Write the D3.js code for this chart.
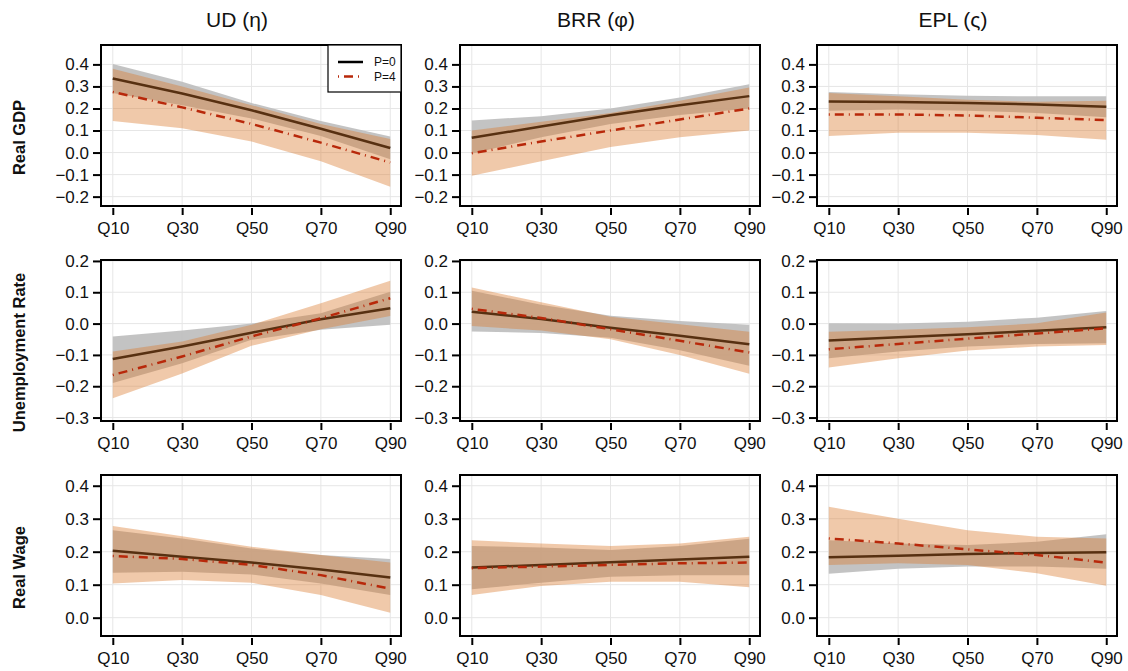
<!DOCTYPE html>
<html lang="en">
<head>
    <meta charset="UTF-8">
    <title>Quantile responses</title>
    <script src="https://cdnjs.cloudflare.com/ajax/libs/d3/7.8.5/d3.min.js"></script>
    <style>
        body { margin: 0; background: white; }
        text { font-family: "Liberation Sans", Arial, sans-serif; fill: #111; }
    </style>
</head>
<body>
    <div id="chart"></div>

    <script>
        // Data
        const quantiles = [10, 30, 50, 70, 90];
        const tickLabels = ["Q10", "Q30", "Q50", "Q70", "Q90"];
        const columnTitles = ["UD (η)", "BRR (φ)", "EPL (ς)"];
        const rowTitles = ["Real GDP", "Unemployment Rate", "Real Wage"];
        const legendLabels = ["P=0", "P=4"];

        const gdpTicks = [-0.2, -0.1, 0, 0.1, 0.2, 0.3, 0.4];
        const unempTicks = [-0.3, -0.2, -0.1, 0, 0.1, 0.2];
        const wageTicks = [0, 0.1, 0.2, 0.3, 0.4];

        // each: [UD, BRR, EPL], values at Q10..Q90
        const gdpP0 = [[0.336, 0.268, 0.192, 0.108, 0.021], [0.067, 0.118, 0.169, 0.215, 0.256], [0.232, 0.229, 0.225, 0.218, 0.208]];
        const gdpP0Lo = [[0.27, 0.215, 0.155, 0.075, -0.03], [-0.005, 0.07, 0.13, 0.17, 0.2], [0.19, 0.195, 0.19, 0.18, 0.16]];
        const gdpP0Hi = [[0.402, 0.321, 0.225, 0.143, 0.073], [0.146, 0.165, 0.2, 0.25, 0.31], [0.275, 0.265, 0.258, 0.255, 0.255]];
        const gdpP4 = [[0.275, 0.205, 0.13, 0.045, -0.045], [-0.003, 0.05, 0.1, 0.15, 0.2], [0.173, 0.173, 0.168, 0.158, 0.147]];
        const gdpP4Lo = [[0.143, 0.11, 0.05, -0.04, -0.155], [-0.105, -0.04, 0.025, 0.07, 0.1], [0.075, 0.09, 0.09, 0.08, 0.058]];
        const gdpP4Hi = [[0.38, 0.3, 0.215, 0.13, 0.062], [0.1, 0.14, 0.18, 0.235, 0.295], [0.27, 0.255, 0.24, 0.23, 0.235]];

        const unempP0 = [[-0.113, -0.073, -0.029, 0.014, 0.049], [0.038, 0.015, -0.013, -0.039, -0.066], [-0.054, -0.044, -0.034, -0.023, -0.012]];
        const unempP0Lo = [[-0.19, -0.127, -0.052, -0.02, -0.004], [-0.025, -0.03, -0.045, -0.085, -0.135], [-0.111, -0.089, -0.073, -0.065, -0.063]];
        const unempP0Hi = [[-0.041, -0.022, 0.0, 0.033, 0.102], [0.105, 0.06, 0.025, 0.008, -0.004], [0.001, 0.0, 0.006, 0.019, 0.04]];
        const unempP4 = [[-0.164, -0.105, -0.041, 0.017, 0.081], [0.047, 0.018, -0.018, -0.055, -0.092], [-0.082, -0.065, -0.048, -0.032, -0.015]];
        const unempP4Lo = [[-0.238, -0.159, -0.071, -0.018, 0.024], [-0.008, -0.022, -0.05, -0.1, -0.16], [-0.14, -0.111, -0.086, -0.073, -0.068]];
        const unempP4Hi = [[-0.089, -0.057, -0.004, 0.065, 0.137], [0.115, 0.068, 0.022, -0.002, -0.026], [-0.026, -0.02, -0.012, 0.001, 0.035]];

        const wageP0 = [[0.203, 0.185, 0.167, 0.146, 0.122], [0.152, 0.16, 0.168, 0.176, 0.185], [0.183, 0.188, 0.193, 0.196, 0.198]];
        const wageP0Lo = [[0.136, 0.139, 0.131, 0.104, 0.069], [0.086, 0.106, 0.124, 0.129, 0.129], [0.133, 0.148, 0.155, 0.155, 0.148]];
        const wageP0Hi = [[0.265, 0.24, 0.21, 0.19, 0.178], [0.217, 0.213, 0.205, 0.217, 0.239], [0.235, 0.225, 0.22, 0.23, 0.253]];
        const wageP4 = [[0.187, 0.178, 0.16, 0.129, 0.088], [0.15, 0.155, 0.16, 0.165, 0.167], [0.24, 0.225, 0.207, 0.19, 0.167]];
        const wageP4Lo = [[0.104, 0.114, 0.106, 0.069, 0.015], [0.069, 0.096, 0.109, 0.109, 0.092], [0.16, 0.165, 0.16, 0.135, 0.097]];
        const wageP4Hi = [[0.278, 0.247, 0.215, 0.19, 0.167], [0.235, 0.225, 0.217, 0.225, 0.245], [0.336, 0.3, 0.265, 0.245, 0.24]];

        // Layout
        const width = 1128, height = 671;
        const colLeft = [101, 460, 817];
        const rowTop = [45, 260, 475];
        const panelW = 300, panelH = 161;

        const rows = [
            { ticks: gdpTicks, domain: [-0.2425, 0.488], s: [gdpP0, gdpP0Lo, gdpP0Hi, gdpP4, gdpP4Lo, gdpP4Hi] },
            { ticks: unempTicks, domain: [-0.311, 0.203], s: [unempP0, unempP0Lo, unempP0Hi, unempP4, unempP4Lo, unempP4Hi] },
            { ticks: wageTicks, domain: [-0.0555, 0.4325], s: [wageP0, wageP0Lo, wageP0Hi, wageP4, wageP4Lo, wageP4Hi] }
        ];

        const greyFill = "#bdbdbd";
        const orangeFill = "#d9772b";
        const redLine = "#b8280a";
        const fmt = d3.format(".1f");

        const svg = d3.select("#chart")
            .append("svg")
            .attr("width", width)
            .attr("height", height);

        const x = d3.scaleLinear().domain([6.6, 93.1]).range([0, panelW]);

        // Column titles
        columnTitles.forEach((t, j) => {
            svg.append("text")
                .attr("x", colLeft[j] + panelW / 2 - 14)
                .attr("y", 27)
                .attr("text-anchor", "middle")
                .style("font-size", "21px")
                .text(t);
        });

        rows.forEach((row, i) => {
            const y = d3.scaleLinear().domain(row.domain).range([panelH, 0]);

            // Row label
            svg.append("text")
                .attr("transform", `translate(19, ${rowTop[i] + panelH / 2 + 12}) rotate(-90)`)
                .attr("text-anchor", "middle")
                .attr("dy", "0.35em")
                .style("font-size", "16.5px")
                .style("font-weight", "bold")
                .text(rowTitles[i]);

            for (let j = 0; j < 3; j++) {
                const g = svg.append("g")
                    .attr("transform", `translate(${colLeft[j]},${rowTop[i]})`);

                const clipId = `clip-${i}-${j}`;
                g.append("clipPath").attr("id", clipId)
                    .append("rect").attr("width", panelW).attr("height", panelH);

                // grid
                g.selectAll("line.hg").data(row.ticks).enter().append("line")
                    .attr("x1", 0).attr("x2", panelW)
                    .attr("y1", d => y(d)).attr("y2", d => y(d))
                    .attr("stroke", "#e6e6e6").attr("stroke-width", 1);
                g.selectAll("line.vg").data(quantiles).enter().append("line")
                    .attr("y1", 0).attr("y2", panelH)
                    .attr("x1", d => x(d)).attr("x2", d => x(d))
                    .attr("stroke", "#e6e6e6").attr("stroke-width", 1);

                const [m0, lo0, hi0, m4, lo4, hi4] = row.s.map(a => a[j]);
                const pts = (lo, hi) => quantiles.map((q, k) => ({ q, lo: lo[k], hi: hi[k] }));
                const area = d3.area().x(d => x(d.q)).y0(d => y(d.lo)).y1(d => y(d.hi));
                const line = d3.line().x((d, k) => x(quantiles[k])).y(d => y(d));

                const plot = g.append("g").attr("clip-path", `url(#${clipId})`);

                plot.append("path").attr("d", area(pts(lo0, hi0)))
                    .attr("fill", greyFill).attr("fill-opacity", 0.9);
                plot.append("path").attr("d", line(m0))
                    .attr("fill", "none").attr("stroke", "#000").attr("stroke-width", 2.5);
                plot.append("path").attr("d", area(pts(lo4, hi4)))
                    .attr("fill", orangeFill).attr("fill-opacity", 0.4);
                plot.append("path").attr("d", line(m4))
                    .attr("fill", "none").attr("stroke", redLine).attr("stroke-width", 2.5)
                    .attr("stroke-dasharray", "1,5,9,5");

                // box
                g.append("rect").attr("width", panelW).attr("height", panelH)
                    .attr("fill", "none").attr("stroke", "#000").attr("stroke-width", 2);

                // y axis
                const ya = g.append("g").attr("transform", "translate(-1,0)")
                    .call(d3.axisLeft(y).tickValues(row.ticks).tickFormat(fmt).tickSize(7).tickPadding(4));
                ya.select(".domain").remove();
                ya.selectAll(".tick line").attr("stroke", "#000").attr("stroke-width", 2);
                ya.selectAll(".tick text").style("font-size", "17px").attr("fill", "#111");

                // x axis
                const xa = g.append("g").attr("transform", `translate(0,${panelH + 2})`)
                    .call(d3.axisBottom(x).tickValues(quantiles).tickFormat((d, k) => tickLabels[k]).tickSize(7).tickPadding(7));
                xa.select(".domain").remove();
                xa.selectAll(".tick line").attr("stroke", "#000").attr("stroke-width", 2);
                xa.selectAll(".tick text").style("font-size", "17px").attr("fill", "#111");

                // legend in first panel
                if (i === 0 && j === 0) {
                    const lg = g.append("g").attr("transform", `translate(${panelW - 73},0)`);
                    lg.append("rect").attr("width", 73).attr("height", 47)
                        .attr("fill", "white").attr("stroke", "#000").attr("stroke-width", 1.2);
                    legendLabels.forEach((lab, k) => {
                        const ly = 17 + k * 14.5;
                        lg.append("line").attr("x1", 10).attr("x2", 35).attr("y1", ly).attr("y2", ly)
                            .attr("stroke", k === 0 ? "#000" : redLine).attr("stroke-width", 2.5)
                            .attr("stroke-dasharray", k === 0 ? null : "1,5,9,5");
                        lg.append("text").attr("x", 46).attr("y", ly).attr("dy", "0.35em")
                            .style("font-size", "12px").text(lab);
                    });
                }
            }
        });
    </script>
</body>
</html>
